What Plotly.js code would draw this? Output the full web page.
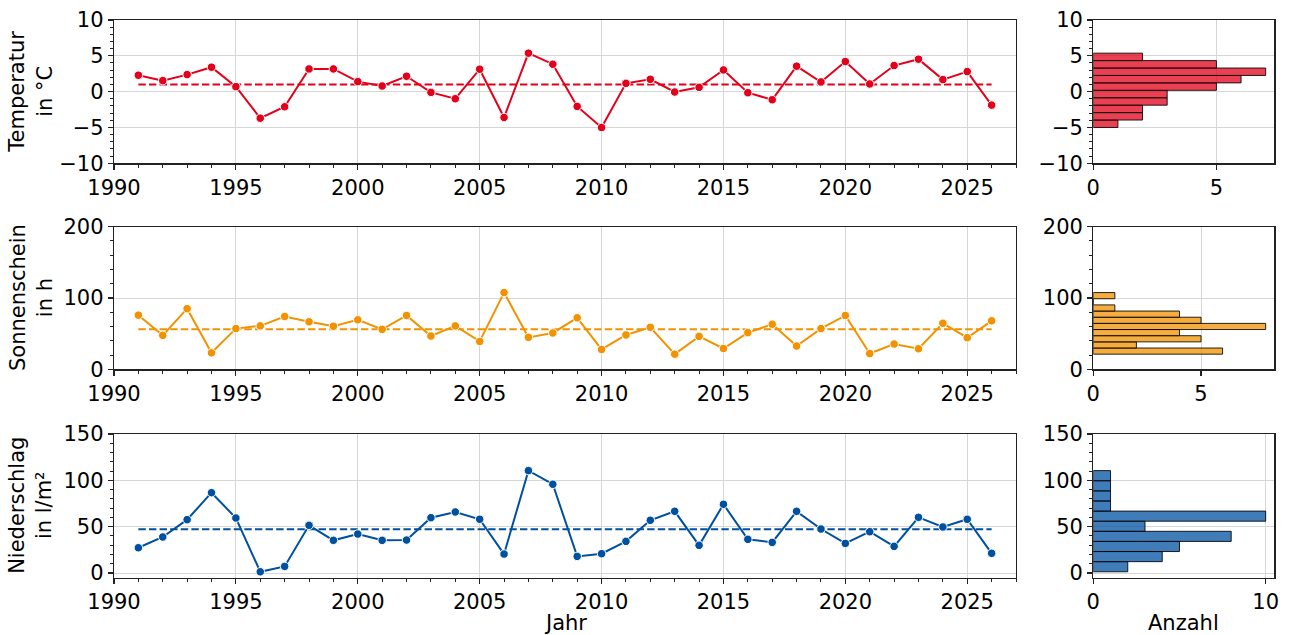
<!DOCTYPE html>
<html>
<head>
<meta charset="utf-8">
<script src="https://cdn.plot.ly/plotly-3.0.1.min.js"></script>
<style>
  html, body { margin: 0; padding: 0; background: #ffffff; }
  #chart { width: 1290px; height: 635px; }
</style>
</head>
<body>
<div id="chart"></div>
<script>
// ---------- data ----------
const years = [1991, 1992, 1993, 1994, 1995, 1996, 1997, 1998, 1999, 2000,
               2001, 2002, 2003, 2004, 2005, 2006, 2007, 2008, 2009, 2010,
               2011, 2012, 2013, 2014, 2015, 2016, 2017, 2018, 2019, 2020,
               2021, 2022, 2023, 2024, 2025, 2026];

const temperatur = [2.29, 1.54, 2.38, 3.41, 0.70, -3.70, -2.11, 3.17, 3.17, 1.40,
                    0.79, 2.15, -0.10, -0.99, 3.13, -3.60, 5.37, 3.83, -2.06, -5.00,
                    1.16, 1.72, -0.05, 0.60, 3.03, -0.15, -1.13, 3.55, 1.35, 4.20,
                    1.07, 3.64, 4.53, 1.68, 2.80, -1.88];

const sonnenschein = [75.9, 47.6, 85.0, 23.1, 57.1, 60.9, 74.1, 66.6, 60.3, 69.4,
                      56.0, 75.5, 46.7, 60.9, 39.1, 107.6, 44.8, 51.0, 72.2, 27.8,
                      48.2, 58.9, 21.2, 46.2, 29.2, 51.4, 63.2, 32.6, 57.1, 75.5,
                      22.1, 35.4, 28.8, 64.6, 44.3, 68.0];

const niederschlag = [27.3, 38.9, 57.6, 86.7, 59.4, 1.4, 7.2, 51.5, 35.3, 42.1,
                      35.3, 35.6, 59.7, 65.9, 58.0, 20.5, 110.5, 95.8, 18.0, 20.9,
                      34.2, 56.9, 66.6, 29.9, 74.2, 36.4, 33.1, 66.6, 47.5, 32.0,
                      44.6, 28.8, 60.1, 49.7, 58.0, 21.3];

// dashed reference levels
const temperaturMittel = 1.0;
const sonnenscheinMittel = 56.1;
const niederschlagMittel = 47.2;

const yTitles = ["Temperatur<br>in °C", "Sonnenschein<br>in h", "Niederschlag<br>in l/m²"];
const xTitleMain = "Jahr";
const xTitleHist = "Anzahl";
const histBins = 10;
const histTickSteps = [5, 5, 10];

// ---------- styling ----------
const W = 1290, H = 635;
const FONT = { family: "DejaVu Sans", size: 21, color: "#000000" };
const lineColors = ["#e2001a", "#f39200", "#0050a0"];
const histColors = ["rgba(226,0,26,0.75)", "rgba(243,146,0,0.75)", "rgba(0,80,160,0.75)"];

// panel geometry in pixels
const mainX = [114, 1016];
const histX = [1093.3, 1274.3];
const panelsY = [[20, 163.3], [226.7, 369.3], [434, 577.7]];

const px2x = p => p / W;
const px2y = p => 1 - p / H;

function histogram(vals, nbins) {
  const mn = Math.min(...vals), mx = Math.max(...vals);
  const w = (mx - mn) / nbins;
  const counts = new Array(nbins).fill(0);
  vals.forEach(v => {
    let i = Math.floor((v - mn) / w + 1e-9);
    if (i >= nbins) i = nbins - 1;
    if (i < 0) i = 0;
    counts[i]++;
  });
  const centers = counts.map((_, i) => mn + w * (i + 0.5));
  return { counts, centers, w };
}

const series = [temperatur, sonnenschein, niederschlag];
const means = [temperaturMittel, sonnenscheinMittel, niederschlagMittel];
const yRanges = [[-10, 10], [0, 200], [-5, 150]];
const yDticks = [5, 100, 50];
const yMinor = [1, 20, 10];

const traces = [];
const layout = {
  width: W, height: H,
  margin: { l: 0, r: 0, t: 0, b: 0, pad: 0 },
  paper_bgcolor: "#ffffff",
  plot_bgcolor: "#ffffff",
  showlegend: false,
  font: FONT,
  annotations: [],
  bargap: 0
};

const axisCommon = {
  showline: true, linecolor: "#222222", linewidth: 1.2, mirror: true,
  showgrid: true, gridcolor: "#d6d6d6", gridwidth: 1,
  zeroline: false,
  ticks: "outside", ticklen: 5, tickwidth: 1.2, tickcolor: "#222222",
  tickfont: FONT, automargin: false, fixedrange: true
};

for (let k = 0; k < 3; k++) {
  const mIdx = 2 * k + 1, hIdx = 2 * k + 2;
  const xm = "x" + mIdx, ym = "y" + mIdx, xh = "x" + hIdx, yh = "y" + hIdx;
  const sfx = n => (n === 1 ? "" : String(n));

  // mean line
  traces.push({
    type: "scatter", mode: "lines",
    x: [years[0], years[years.length - 1]], y: [means[k], means[k]],
    xaxis: xm, yaxis: ym,
    line: { color: lineColors[k], width: 2, dash: "7.4px,3.2px" },
    hoverinfo: "skip"
  });
  // data line
  traces.push({
    type: "scatter", mode: "lines+markers",
    x: years, y: series[k],
    xaxis: xm, yaxis: ym,
    line: { color: lineColors[k], width: 2 },
    marker: { color: lineColors[k], size: 8.5, line: { color: "#ffffff", width: 1 } }
  });
  // histogram
  const h = histogram(series[k], histBins);
  traces.push({
    type: "bar", orientation: "h",
    x: h.counts, y: h.centers, width: h.w,
    xaxis: xh, yaxis: yh,
    marker: { color: histColors[k], line: { color: "rgba(0,0,0,0.85)", width: 1 } }
  });

  const yDom = [px2y(panelsY[k][1]), px2y(panelsY[k][0])];
  const maxCount = Math.max(...h.counts);

  layout["xaxis" + sfx(mIdx)] = Object.assign({}, axisCommon, {
    domain: [px2x(mainX[0]), px2x(mainX[1])],
    anchor: ym, range: [1990, 2027],
    tick0: 1990, dtick: 5,
    minor: { ticks: "outside", ticklen: 3, tickwidth: 1, tickcolor: "#222222", tick0: 1990, dtick: 1, showgrid: false }
  });
  layout["yaxis" + sfx(mIdx)] = Object.assign({}, axisCommon, {
    domain: yDom, anchor: xm, range: yRanges[k],
    tick0: 0, dtick: yDticks[k],
    minor: { ticks: "outside", ticklen: 3, tickwidth: 1, tickcolor: "#222222", tick0: 0, dtick: yMinor[k], showgrid: false }
  });
  layout["xaxis" + sfx(hIdx)] = Object.assign({}, axisCommon, {
    domain: [px2x(histX[0]), px2x(histX[1])],
    anchor: yh, range: [0, maxCount * 1.05],
    tick0: 0, dtick: histTickSteps[k]
  });
  layout["yaxis" + sfx(hIdx)] = Object.assign({}, axisCommon, {
    domain: yDom, anchor: xh, range: yRanges[k],
    tick0: 0, dtick: yDticks[k],
    minor: { ticks: "outside", ticklen: 3, tickwidth: 1, tickcolor: "#222222", tick0: 0, dtick: yMinor[k], showgrid: false }
  });

  // y titles
  layout.annotations.push({
    xref: "paper", yref: "paper",
    x: px2x(31), y: (yDom[0] + yDom[1]) / 2,
    xanchor: "center", yanchor: "middle",
    text: yTitles[k], textangle: -90, showarrow: false,
    font: FONT, align: "center"
  });
}

// x titles
layout.annotations.push({
  xref: "paper", yref: "paper",
  x: px2x((mainX[0] + mainX[1]) / 2), y: px2y(623),
  xanchor: "center", yanchor: "middle",
  text: xTitleMain, showarrow: false, font: FONT
});
layout.annotations.push({
  xref: "paper", yref: "paper",
  x: px2x((histX[0] + histX[1]) / 2), y: px2y(623),
  xanchor: "center", yanchor: "middle",
  text: xTitleHist, showarrow: false, font: FONT
});

Plotly.newPlot("chart", traces, layout, { displayModeBar: false, staticPlot: true });
</script>
</body>
</html>
